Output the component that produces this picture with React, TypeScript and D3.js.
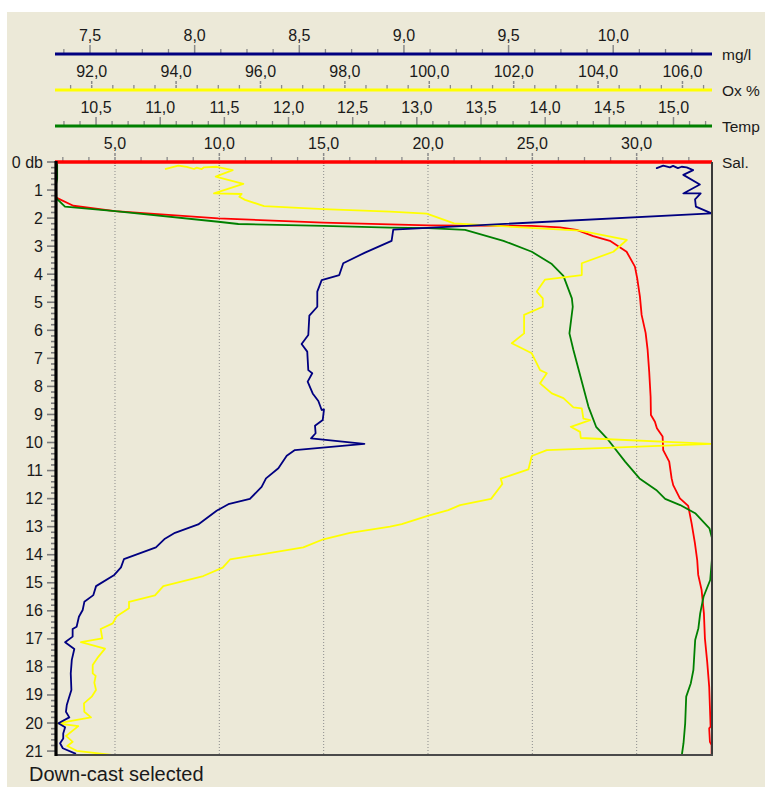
import React from "react";
import * as d3 from "d3";

// [depth (db), value]
const oxygenMgL: [number, number][] = [
  [0.13, 10.239], [0.22, 10.208], [0.13, 10.239], [0.19, 10.271], [0.14, 10.286], [0.22, 10.309],
  [0.17, 10.327], [0.19, 10.351], [0.29, 10.382], [0.46, 10.335], [0.8, 10.414], [1.12, 10.335],
  [1.12, 10.418], [1.33, 10.391], [1.59, 10.395], [1.83, 10.47], [2.41, 8.949], [2.81, 8.941],
  [3.23, 8.814], [3.61, 8.71], [4.03, 8.691], [4.21, 8.607], [4.62, 8.586], [5.16, 8.586],
  [5.48, 8.548], [6.17, 8.543], [6.49, 8.511], [6.76, 8.538], [7.42, 8.543], [7.53, 8.562],
  [7.83, 8.54], [8.25, 8.564], [8.52, 8.591], [8.84, 8.607], [8.82, 8.618], [9.2, 8.612],
  [9.4, 8.575], [9.67, 8.578], [9.85, 8.556], [10.05, 8.811], [10.27, 8.479], [10.47, 8.44],
  [10.92, 8.4], [11.28, 8.341], [11.58, 8.32], [12.01, 8.264], [12.2, 8.161], [12.43, 8.105],
  [12.92, 8.017], [13.22, 7.906], [13.43, 7.858], [13.74, 7.815], [14.16, 7.662], [14.45, 7.648],
  [14.72, 7.616], [15.12, 7.529], [15.44, 7.516], [15.68, 7.473], [15.97, 7.465], [16.21, 7.447],
  [16.57, 7.436], [16.65, 7.417], [16.92, 7.417], [17.12, 7.381], [17.36, 7.425], [17.75, 7.413],
  [18.23, 7.408], [18.82, 7.411], [19.06, 7.401], [19.36, 7.389], [19.6, 7.385], [19.8, 7.401],
  [20.01, 7.349], [20.15, 7.381], [20.37, 7.372], [20.55, 7.372], [20.72, 7.357], [20.9, 7.37],
  [21.1, 7.433],
];

const oxygenPct: [number, number][] = [
  [0.25, 93.737], [0.13, 94.053], [0.17, 94.252], [0.25, 94.425], [0.2, 94.489], [0.25, 94.607],
  [0.19, 94.662], [0.17, 94.963], [0.29, 95.342], [0.52, 94.939], [0.78, 95.593], [1.12, 94.899],
  [1.14, 95.555], [1.24, 95.498], [1.35, 95.634], [1.57, 96.084], [1.68, 97.49], [1.77, 99.07],
  [1.84, 99.94], [2.19, 100.587], [2.45, 103.574], [2.78, 104.681], [3.2, 104.363], [3.61, 103.614],
  [4.03, 103.614], [4.19, 102.744], [4.62, 102.547], [4.86, 102.69], [5.16, 102.69], [5.45, 102.247],
  [6.11, 102.247], [6.46, 101.955], [6.82, 102.429], [7.42, 102.626], [7.53, 102.785], [7.89, 102.626],
  [8.25, 102.903], [8.42, 103.178], [8.75, 103.415], [8.78, 103.614], [9.15, 103.652], [9.2, 103.811],
  [9.44, 103.353], [9.62, 103.574], [9.84, 103.59], [10.05, 106.695], [10.27, 102.785], [10.48, 102.429],
  [10.96, 102.349], [11.29, 101.694], [11.48, 101.732], [12.01, 101.464], [12.23, 100.73], [12.41, 100.452],
  [12.61, 99.978], [12.91, 99.348], [13.0, 99.07], [13.22, 98.122], [13.45, 97.49], [13.74, 97.015],
  [14.17, 95.278], [14.46, 95.105], [14.76, 94.645], [15.12, 93.697], [15.45, 93.5], [15.68, 92.884],
  [15.91, 92.884], [16.19, 92.593], [16.45, 92.498], [16.65, 92.213], [16.98, 92.251], [17.12, 91.746],
  [17.35, 92.315], [17.64, 92.156], [17.93, 92.024], [18.23, 92.024], [18.32, 92.095], [18.56, 92.062],
  [18.82, 92.102], [19.06, 92.0], [19.3, 91.817], [19.6, 91.825], [19.8, 91.983], [20.01, 91.185],
  [20.11, 91.682], [20.46, 91.391], [20.67, 91.55], [20.82, 91.422], [20.99, 91.644], [21.14, 92.474],
];

const temperature: [number, number][] = [
  [0.0, 10.19], [0.1, 10.197], [0.6, 10.197], [0.8, 10.188], [1.29, 10.19], [1.59, 10.258],
  [1.75, 10.648], [2.13, 11.453], [2.21, 11.609], [2.28, 12.272], [2.34, 12.792], [2.36, 13.09],
  [2.42, 13.376], [2.81, 13.675], [3.2, 13.896], [3.64, 14.052], [4.06, 14.142], [4.86, 14.208],
  [5.16, 14.215], [6.11, 14.189], [6.7, 14.22], [7.48, 14.265], [8.72, 14.337], [9.44, 14.397],
  [9.85, 14.481], [10.68, 14.623], [11.28, 14.735], [11.69, 14.865], [12.01, 14.935], [12.23, 15.052],
  [12.52, 15.169], [13.06, 15.28], [13.48, 15.304], [14.19, 15.299], [14.9, 15.286], [15.5, 15.234],
  [16.09, 15.208], [16.62, 15.194], [17.04, 15.169], [18.11, 15.155], [18.58, 15.135], [19.06, 15.099],
  [20.01, 15.091], [20.72, 15.078], [21.14, 15.065],
];

const salinity: [number, number][] = [
  [0.0, 2.17], [1.25, 2.17], [1.29, 2.235], [1.56, 3.002], [1.75, 5.0], [2.01, 9.95],
  [2.16, 14.981], [2.26, 20.012], [2.28, 24.966], [2.33, 26.322], [2.42, 27.122], [2.64, 27.918],
  [2.81, 28.718], [3.2, 29.518], [3.73, 29.916], [4.15, 30.026], [4.8, 30.156], [5.45, 30.237],
  [6.09, 30.429], [6.7, 30.525], [7.48, 30.601], [8.37, 30.668], [9.02, 30.683], [9.26, 30.875],
  [9.49, 30.97], [9.79, 31.243], [10.27, 31.272], [10.68, 31.56], [11.28, 31.675], [11.52, 31.751],
  [11.99, 32.072], [12.26, 32.47], [12.88, 32.633], [13.59, 32.791], [14.19, 32.901], [14.72, 32.949],
  [15.26, 33.112], [16.09, 33.222], [16.98, 33.27], [17.82, 33.38], [18.71, 33.476], [20.13, 33.543],
  [20.19, 33.476], [20.67, 33.51], [20.79, 33.591], [21.14, 33.591],
];

const mgTicks = [7.5, 8.0, 8.5, 9.0, 9.5, 10.0];
const oxTicks = [92, 94, 96, 98, 100, 102, 104, 106];
const tempTicks = [10.5, 11.0, 11.5, 12.0, 12.5, 13.0, 13.5, 14.0, 14.5, 15.0];
const salTicks = [5, 10, 15, 20, 25, 30];
const depthTicks = d3.range(0, 22);
const statusText = "Down-cast selected";

const FONT = "'Liberation Sans', Arial, sans-serif";
const L = 56, R = 712, T = 162, B = 755;

type AxisDef = {
  label: string; color: string; y: number; domain: [number, number];
  majors: number[]; minorStep: number; dashedMajor: boolean; data: [number, number][];
};

const axes: AxisDef[] = [
  { label: "mg/l", color: "#000080", y: 54, domain: [7.3375, 10.472], majors: mgTicks, minorStep: 0.125, dashedMajor: false, data: oxygenMgL },
  { label: "Ox %", color: "#FFFF00", y: 90, domain: [91.154, 106.7], majors: oxTicks, minorStep: 0.5, dashedMajor: true, data: oxygenPct },
  { label: "Temp", color: "#008000", y: 126, domain: [10.188, 15.3], majors: tempTicks, minorStep: 0.125, dashedMajor: false, data: temperature },
  { label: "Sal.", color: "#FF0000", y: 162, domain: [2.173, 33.61], majors: salTicks, minorStep: 1.25, dashedMajor: true, data: salinity },
];

const fmt = (v: number) => d3.format(".1f")(v).replace(".", ",");

export default function App() {
  const yScale = d3.scaleLinear().domain([0, 21.14]).range([T, B]);
  const xScales = axes.map((a) => d3.scaleLinear().domain(a.domain).range([L, R]));
  const salX = xScales[3];
  const drawOrder = [3, 2, 1, 0];

  return (
    <svg width={765} height={796} style={{ position: "absolute", left: 0, top: 0 }} fontFamily={FONT}>
      <rect x={0} y={0} width={765} height={796} fill="#ffffff" />
      <rect x={7} y={12} width={758} height={775} fill="#ECE9D8" />
      <defs>
        <clipPath id="plotClip">
          <rect x={L} y={T} width={R - L} height={B - T} />
        </clipPath>
      </defs>

      {/* vertical dotted gridlines at salinity majors */}
      {salTicks.map((t) => (
        <line key={"g" + t} x1={salX(t)} x2={salX(t)} y1={T} y2={B} stroke="#8c8c8c" strokeWidth={1} strokeDasharray="1 2" />
      ))}

      {/* top axes */}
      {axes.map((a, i) => {
        const sc = xScales[i];
        const minors: number[] = [];
        const start = Math.ceil(a.domain[0] / a.minorStep) * a.minorStep;
        for (let v = start; v <= a.domain[1] + 1e-9; v += a.minorStep) {
          const vv = Math.round(v * 1000) / 1000;
          if (!a.majors.some((m) => Math.abs(m - vv) < 1e-6) && sc(vv) <= R - 4) minors.push(vv);
        }
        return (
          <g key={a.label}>
            {minors.map((m) => (
              <line key={"m" + m} x1={sc(m)} x2={sc(m)} y1={a.y - 5} y2={a.y} stroke="#8a8a8a" strokeWidth={1.3} />
            ))}
            {a.majors.map((m) => (
              <line key={"M" + m} x1={sc(m)} x2={sc(m)} y1={a.y - 9} y2={a.y + (i === 3 ? 4 : 0)} stroke="#8a8a8a" strokeWidth={1.5}
                strokeDasharray={a.dashedMajor ? "3 1" : undefined} />
            ))}
            <line x1={L - 1} x2={R} y1={a.y} y2={a.y} stroke={a.color} strokeWidth={3.2} />
            {a.majors.map((m) => (
              <text key={"t" + m} x={sc(m)} y={a.y - 13} textAnchor="middle" fontSize={16} fill="#1a1a1a">{fmt(m)}</text>
            ))}
            <text x={722} y={a.y} dominantBaseline="central" fontSize={15.5} fill="#1a1a1a">{a.label}</text>
          </g>
        );
      })}

      {/* left depth axis ticks */}
      {d3.range(0, 106).map((k) => {
        const d = k * 0.2;
        if (d > 21.14) return null;
        const major = k % 5 === 0;
        return (
          <line key={"dt" + k} x1={major ? 47 : 51} x2={L} y1={yScale(d)} y2={yScale(d)} stroke="#7a7a7a" strokeWidth={major ? 1.6 : 1.6} />
        );
      })}
      {depthTicks.map((d) => (
        <text key={"dl" + d} x={43} y={yScale(d)} textAnchor="end" dominantBaseline="central" fontSize={16} fill="#1a1a1a">
          {d === 0 ? "0 db" : String(d)}
        </text>
      ))}

      {/* data lines */}
      <g clipPath="url(#plotClip)">
        {drawOrder.map((i) => {
          const a = axes[i];
          const sc = xScales[i];
          const gen = d3.line<[number, number]>().x((p) => sc(p[1])).y((p) => yScale(p[0]));
          return <path key={"p" + i} d={gen(a.data) || ""} fill="none" stroke={a.color} strokeWidth={1.8} strokeLinejoin="round" />;
        })}
      </g>

      {/* red top line redrawn on top */}
      <line x1={L - 1} x2={R} y1={T} y2={T} stroke="#FF0000" strokeWidth={3.2} />

      {/* frame */}
      <line x1={R} x2={R} y1={T} y2={B + 1} stroke="#3a3a3a" strokeWidth={2} />
      <line x1={L} x2={R + 1} y1={B} y2={B} stroke="#4a4a4a" strokeWidth={2} />
      <line x1={L} x2={L} y1={T - 1} y2={B + 1} stroke="#000000" strokeWidth={3.2} />

      <text x={29} y={781} fontSize={20} fill="#1a1a1a">{statusText}</text>
    </svg>
  );
}
